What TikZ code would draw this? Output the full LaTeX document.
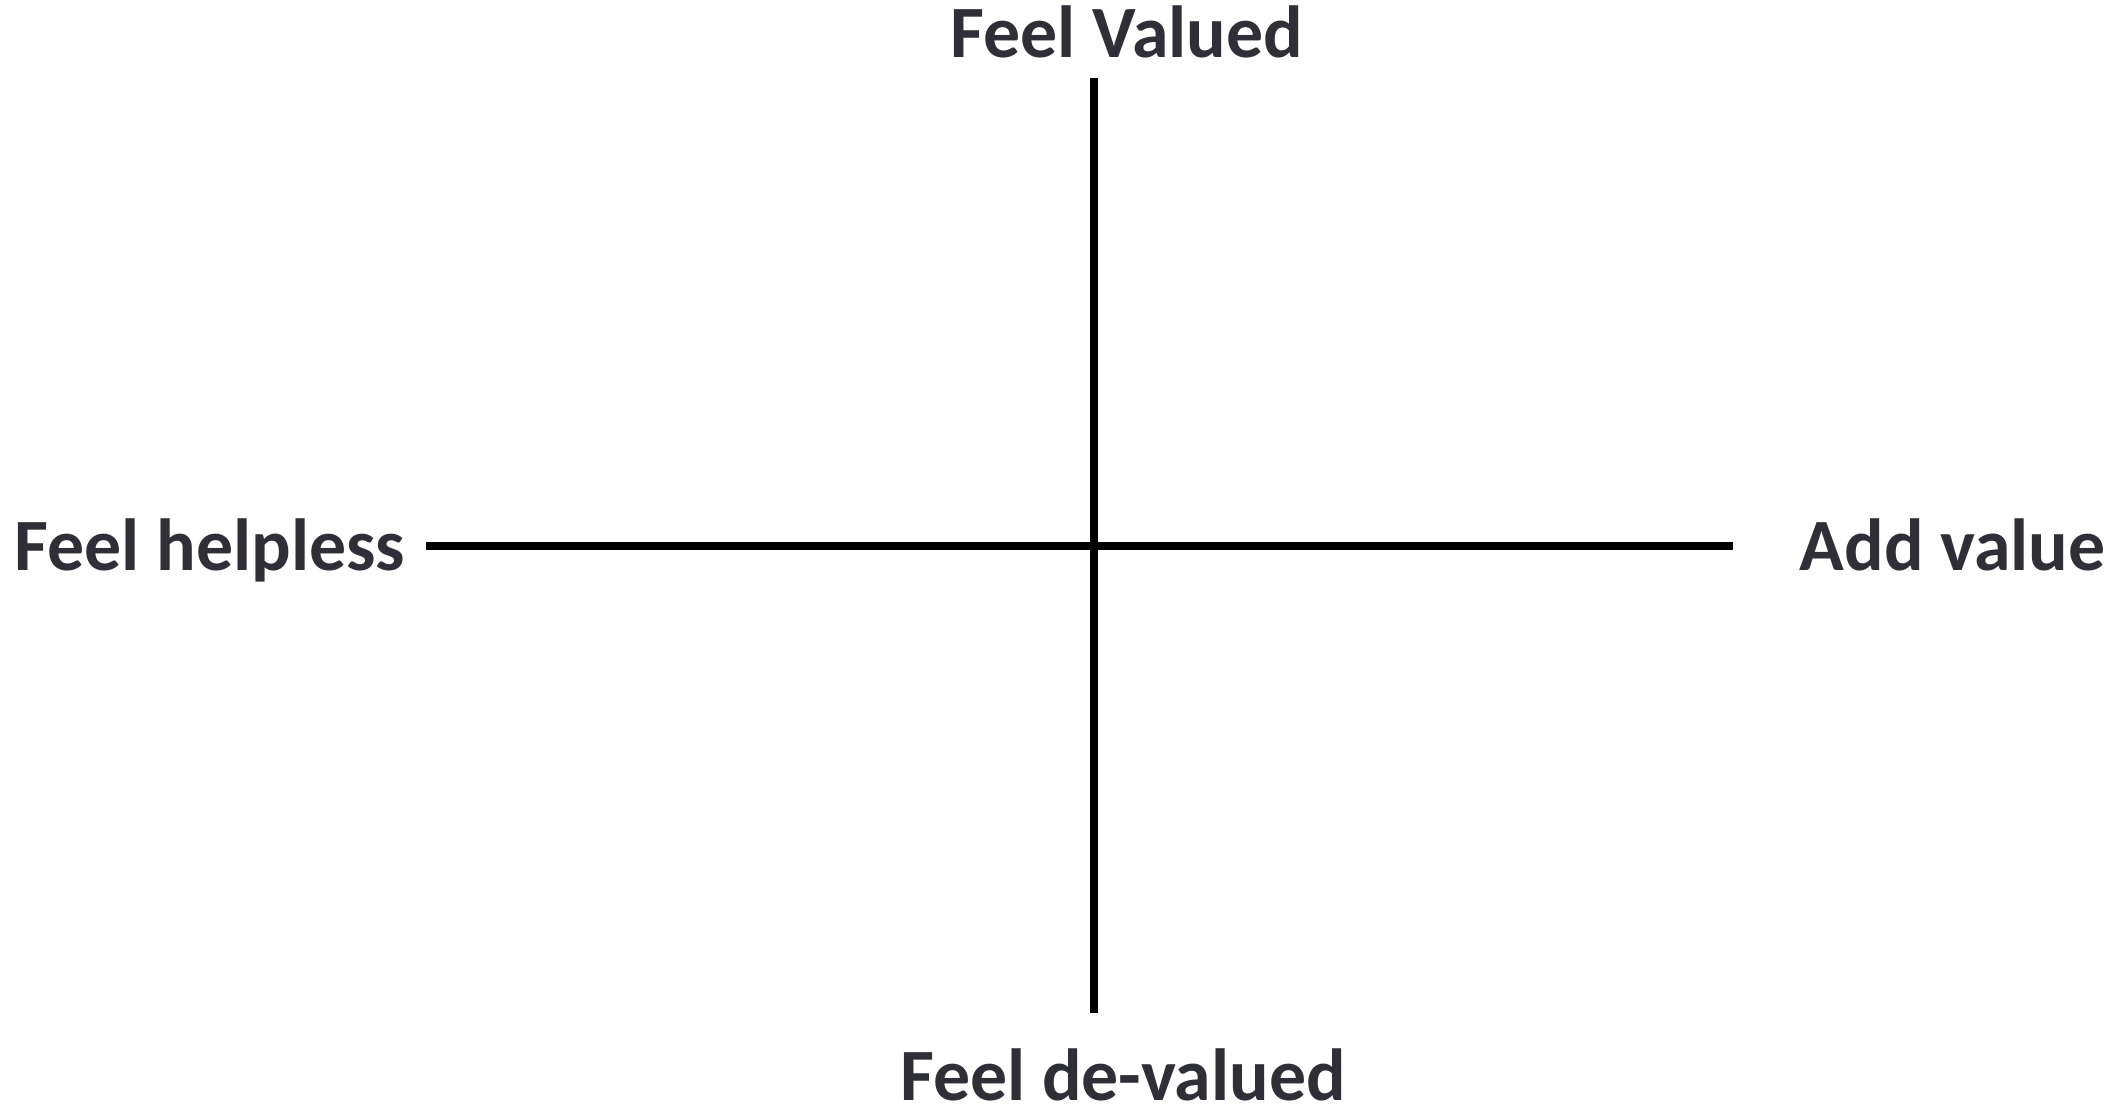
\documentclass[tikz,border=0pt]{standalone}
\usepackage{fontspec}
\setmainfont{Carlito}
\definecolor{labelgray}{HTML}{2F3037}
\tikzset{
    axis/.style={line width=0.08cm, black},
    pole/.style={font=\fontsize{21}{25}\bfseries\selectfont, text=labelgray,
                 inner sep=0pt},
}

\begin{document}
\begin{tikzpicture}

    \useasboundingbox (0,0) rectangle (21.21,11.11);

    % axis ends
    \coordinate (top) at (10.94,10.33);
    \coordinate (bottom) at (10.94,0.98);
    \coordinate (left) at (4.26,5.65);
    \coordinate (right) at (17.33,5.65);

    \node[pole, anchor=base] (valued) at (11.27,10.53) {Feel Valued};
    \node[pole, anchor=base] (devalued) at (11.23,0.11) {Feel de-valued};
    \node[pole, anchor=base west] (helpless) at (0.14,5.40) {Feel helpless};
    \node[pole, anchor=base west] (addvalue) at (17.99,5.40) {Add value};

    \draw[axis] (top) -- (bottom);
    \draw[axis] (left) -- (right);

\end{tikzpicture}
\end{document}
